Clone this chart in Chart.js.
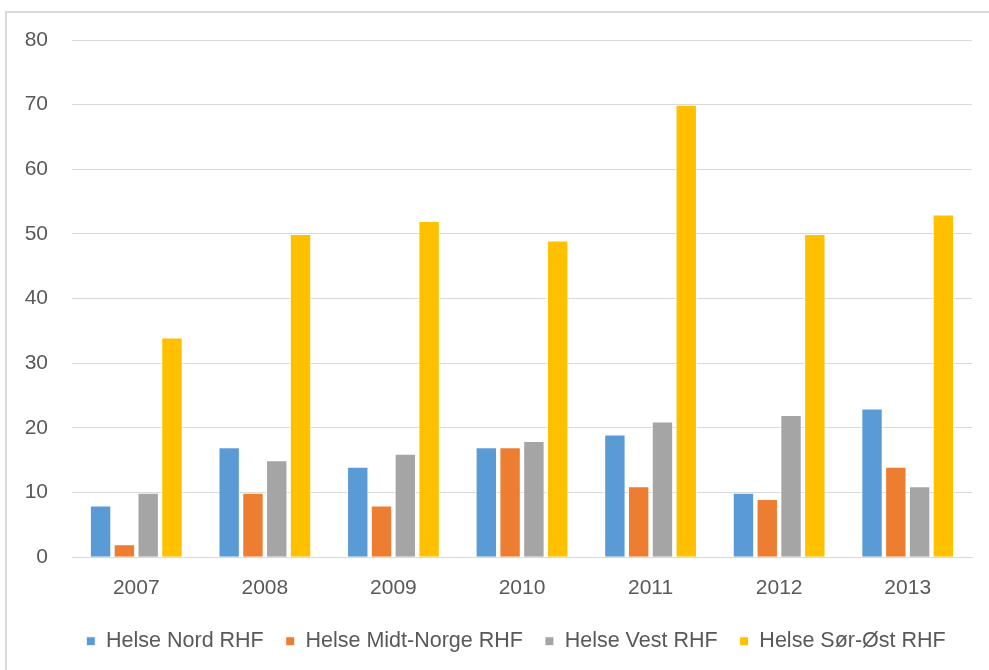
<!DOCTYPE html>
<html>
<head>
<meta charset="utf-8">
<script src="https://cdn.jsdelivr.net/npm/chart.js@4/dist/chart.umd.min.js"></script>
<style>
  html, body { margin: 0; padding: 0; background: #fff; }
  #wrap { position: relative; width: 989px; height: 670px; overflow: hidden; }
  #frame { position: absolute; left: 5px; top: 11px; width: 1000px; height: 700px;
           border-top: 2px solid #d9d9d9; border-left: 2px solid #d9d9d9; box-sizing: border-box; }
  canvas { position: absolute; left: 0; top: 0; }
</style>
</head>
<body>
<div id="wrap">
  <div id="frame"></div>
  <canvas id="c" width="989" height="670"></canvas>
</div>
<script>
const years = ['2007', '2008', '2009', '2010', '2011', '2012', '2013'];
const helseNord = [8, 17, 14, 17, 19, 10, 23];
const helseMidtNorge = [2, 10, 8, 17, 11, 9, 14];
const helseVest = [10, 15, 16, 18, 21, 22, 11];
const helseSorOst = [34, 50, 52, 49, 70, 50, 53];
const seriesNames = ['Helse Nord RHF', 'Helse Midt-Norge RHF', 'Helse Vest RHF', 'Helse Sør-Øst RHF'];
const seriesColors = ['#5b9bd5', '#ed7d31', '#a5a5a5', '#ffc000'];
const yTicks = [0, 10, 20, 30, 40, 50, 60, 70, 80];

const font = { family: '"Liberation Sans", Arial, sans-serif', size: 21 };
const legendFont = { family: '"Liberation Sans", Arial, sans-serif', size: 21.5 };
const textColor = '#595959';

const datasets = [helseNord, helseMidtNorge, helseVest, helseSorOst].map((vals, i) => ({
  label: seriesNames[i],
  data: vals,
  backgroundColor: seriesColors[i],
  borderColor: '#ffffff',
  borderWidth: 1,
  barPercentage: 0.9,
  categoryPercentage: 0.74
}));

// nudge the legend row to the right, under the frame's centre
const legendShift = {
  id: 'legendShift',
  afterUpdate(chart) {
    const lg = chart.legend;
    if (lg) { lg.left += 30; lg.right += 30; }
  }
};

new Chart(document.getElementById('c'), {
  type: 'bar',
  data: { labels: years, datasets },
  plugins: [legendShift],
  options: {
    responsive: false,
    animation: false,
    layout: { padding: { left: 0, right: 17, top: 40, bottom: 8 } },
    plugins: {
      tooltip: { enabled: false },
      legend: {
        position: 'bottom',
        labels: {
          font: legendFont, color: textColor,
          boxWidth: 9, boxHeight: 9,
          padding: 22
        }
      }
    },
    scales: {
      x: {
        afterFit: s => { s.height -= 10; },
        grid: { display: false, drawTicks: false },
        border: { display: true, color: '#d9d9d9', width: 1 },
        ticks: { font, color: textColor, padding: 18 }
      },
      y: {
        min: 0, max: 80,
        afterFit: s => { s.width = 72; },
        afterBuildTicks: s => { s.ticks = yTicks.map(v => ({ value: v })); },
        grid: { color: '#d9d9d9', lineWidth: 1, drawTicks: false },
        border: { display: false },
        ticks: { font, color: textColor, padding: 24, stepSize: 10 }
      }
    }
  }
});
</script>
</body>
</html>
